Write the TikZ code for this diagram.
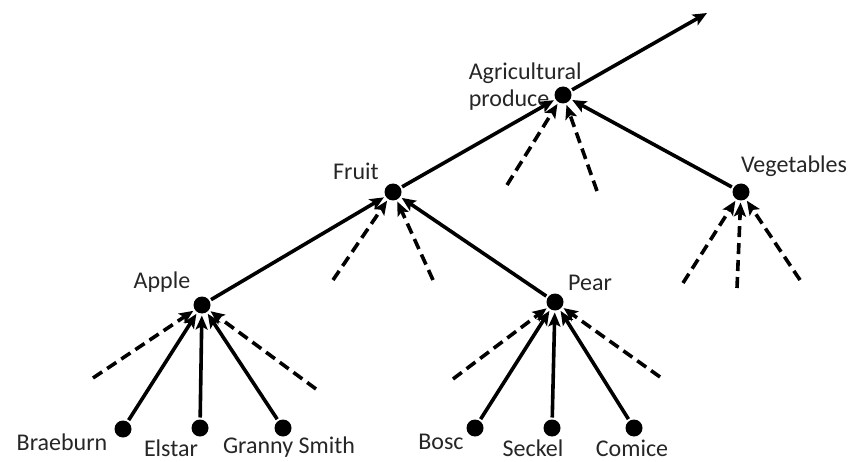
\documentclass[tikz,border=0pt]{standalone}
\usepackage{fontspec}
\setmainfont{Carlito}
\usetikzlibrary{arrows.meta}
\begin{document}
\begin{tikzpicture}
		[x=1pt,y=1pt,line width=3.6pt,
		dot/.style={circle,fill,inner sep=0pt,minimum size=17pt,outer sep=2pt},
		lbl/.style={font=\fontsize{24}{27}\selectfont,text=black!85,inner sep=1pt},
		link/.style={-{Stealth[length=14pt,width=12pt,inset=3pt]}},
		other/.style={link,dash pattern=on 11pt off 6pt}] % dots are the categories, labels sit beside them
		
		\useasboundingbox (0,0) rectangle (853,461);
		
		\node[dot] (agri) at (563,366) {};
		\node[dot] (fruit) at (393,269) {};
		\node[dot] (veg) at (741,269) {};
		\node[dot] (apple) at (202,156) {};
		\node[dot] (pear) at (555,159) {};
		\node[dot] (brae) at (123,32) {};
		\node[dot] (elst) at (200,33) {};
		\node[dot] (gran) at (283,33) {};
		\node[dot] (bosc) at (475,33) {};
		\node[dot] (seck) at (552,33) {};
		\node[dot] (comi) at (634,33) {};
		\coordinate (top) at (707,448);
		
		% labels
		\node[lbl,align=left,anchor=west] (lagri) at (466,374) {Agricultural\\produce};
		\node[lbl] (lfruit) at (356,290) {Fruit};
		\node[lbl] (lveg) at (794,295) {Vegetables};
		\node[lbl] (lapple) at (162,179) {Apple};
		\node[lbl] (lpear) at (590,178) {Pear};
		\node[lbl] (lbrae) at (62,19) {Braeburn};
		\node[lbl] (lelst) at (171,13) {Elstar};
		\node[lbl] (lgran) at (289,14) {Granny Smith};
		\node[lbl] (lbosc) at (441,19) {Bosc};
		\node[lbl] (lseck) at (533,13) {Seckel};
		\node[lbl] (lcomi) at (632,13) {Comice};
		
		% free ends of the dashed links
		\coordinate (a1) at (507,276);
		\coordinate (a2) at (597,270);
		\coordinate (f1) at (333,181);
		\coordinate (f2) at (433,181);
		\coordinate (v1) at (683,178);
		\coordinate (v2) at (737,173);
		\coordinate (v3) at (800,181);
		\coordinate (p1) at (93,83);
		\coordinate (p2) at (316,72);
		\coordinate (q1) at (453,82);
		\coordinate (q2) at (660,84);
		
		\draw [link] (agri) -- (top);
		\draw [link] (fruit) -- (agri);
		\draw [link] (veg) -- (agri);
		\draw [link] (apple) -- (fruit);
		\draw [link] (pear) -- (fruit);
		\draw [link] (brae) -- (apple);
		\draw [link] (elst) -- (apple);
		\draw [link] (gran) -- (apple);
		\draw [link] (bosc) -- (pear);
		\draw [link] (seck) -- (pear);
		\draw [link] (comi) -- (pear);
		
		\draw [other] (a1) -- (agri);
		\draw [other] (a2) -- (agri);
		\draw [other] (f1) -- (fruit);
		\draw [other] (f2) -- (fruit);
		\draw [other] (v1) -- (veg);
		\draw [other] (v2) -- (veg);
		\draw [other] (v3) -- (veg);
		\draw [other] (p1) -- (apple);
		\draw [other] (p2) -- (apple);
		\draw [other] (q1) -- (pear);
		\draw [other] (q2) -- (pear);
		
	\end{tikzpicture}
\end{document}
